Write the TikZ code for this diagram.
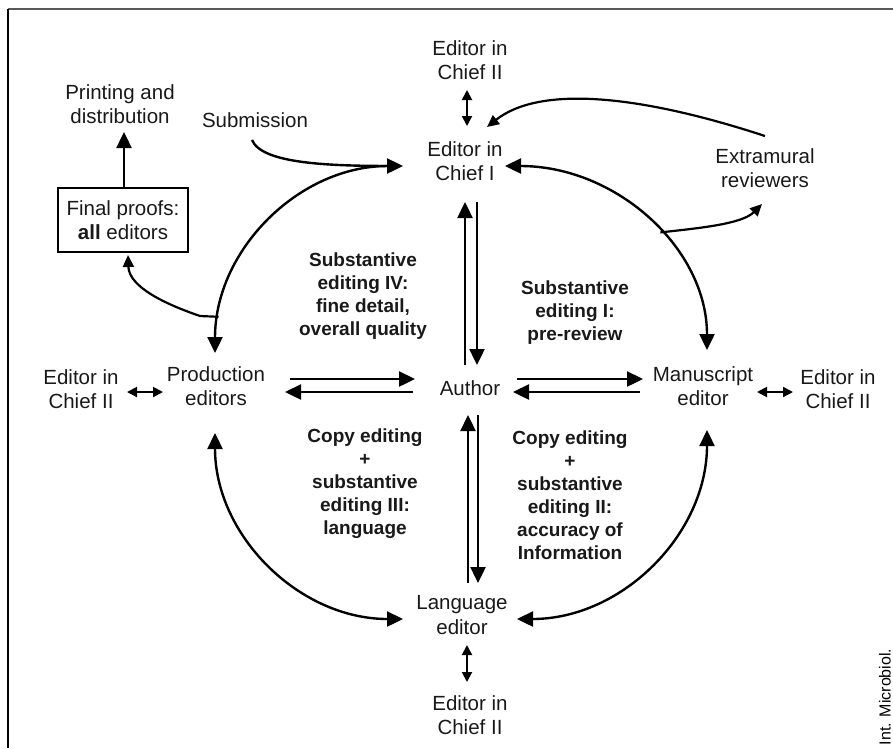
\documentclass[tikz,border=0pt]{standalone}
\usepackage{fontspec}
\setmainfont{Liberation Sans}
\usetikzlibrary{arrows.meta}
\begin{document}
\begin{tikzpicture}[x=1pt,y=-1pt,
  lbl/.style={font=\fontsize{20.5}{24.5}\selectfont, align=center, inner sep=0pt, text=black!90},
  blbl/.style={font=\fontsize{19}{23}\selectfont\bfseries, align=center, inner sep=0pt, text=black!90},
  arr/.style={line width=2.4pt, -{Triangle[length=16pt,width=15pt]}},
  arrb/.style={line width=2.4pt, {Triangle[length=16pt,width=15pt]}-{Triangle[length=16pt,width=15pt]}},
  darr/.style={line width=2pt, {Triangle[length=10pt,width=10pt]}-{Triangle[length=10pt,width=10pt]}},
  thin/.style={line width=2.2pt, -{Triangle[length=12pt,width=11pt]}},
  plain/.style={line width=2.4pt}]
\useasboundingbox (0,0) rectangle (893,748);
% frame
\draw[line width=2.5pt, black!65] (8,9) -- (893,9);
\draw[line width=2pt] (8,9) -- (8,748);
\node[rotate=90, font=\fontsize{16}{18}\selectfont, inner sep=0pt] (src) at (885,697) {Int. Microbiol.};
% nodes
\node[lbl] (eicT) at (470,60) {Editor in\\Chief II};
\node[lbl] (eic1) at (465,161) {Editor in\\Chief I};
\node[lbl] (author) at (470,388) {Author};
\node[lbl] (lang) at (462,615) {Language\\editor};
\node[lbl] (eicB) at (470,715) {Editor in\\Chief II};
\node[lbl] (prod) at (216,386) {Production\\editors};
\node[lbl] (eicL) at (81,389) {Editor in\\Chief II};
\node[lbl] (ms) at (703,386) {Manuscript\\editor};
\node[lbl] (eicR) at (838,389) {Editor in\\Chief II};
\node[lbl] (ext) at (765,168) {Extramural\\reviewers};
\node[lbl] (sub) at (255,120) {Submission};
\node[lbl] (print) at (120,104) {Printing and\\distribution};
\node[lbl, draw, line width=1.3pt, minimum width=130pt, minimum height=64pt] (final) at (123,220) {Final proofs:\\\textbf{all} editors};
\node[blbl] (s4) at (363,296) {Substantive\\editing IV:\\fine detail,\\overall quality};
\node[blbl] (s1) at (575,313) {Substantive\\editing I:\\pre-review};
\node[blbl] (c3) at (365,484) {Copy editing\\+\\substantive\\editing III:\\language};
\node[blbl] (c2) at (570,495) {Copy editing\\+\\substantive\\editing II:\\accuracy of\\Information};
% coordinates
\coordinate (tT1) at (467,90);  \coordinate (tT2) at (467,126);
\coordinate (tB1) at (467,645); \coordinate (tB2) at (467,682);
\coordinate (tL1) at (127,392); \coordinate (tL2) at (163,392);
\coordinate (tR1) at (757,392); \coordinate (tR2) at (793,392);
\coordinate (v1a) at (465,365); \coordinate (v1b) at (465,202);
\coordinate (v2a) at (477,202); \coordinate (v2b) at (477,365);
\coordinate (v3a) at (468,583); \coordinate (v3b) at (468,415);
\coordinate (v4a) at (478,415); \coordinate (v4b) at (478,583);
\coordinate (h1a) at (290,379); \coordinate (h1b) at (415,379);
\coordinate (h2a) at (413,392); \coordinate (h2b) at (285,392);
\coordinate (h3a) at (517,379); \coordinate (h3b) at (643,379);
\coordinate (h4a) at (640,392); \coordinate (h4b) at (513,392);
\coordinate (prTop) at (215,353); \coordinate (eicL1) at (403,166);
\coordinate (eicR1) at (505,166); \coordinate (msTop) at (707,350);
\coordinate (prBot) at (215,433); \coordinate (lgL) at (403,619);
\coordinate (msBot) at (707,430); \coordinate (lgR) at (517,619);
% double arrows
\draw[darr] (tT1) -- (tT2);
\draw[darr] (tB1) -- (tB2);
\draw[darr] (tL1) -- (tL2);
\draw[darr] (tR1) -- (tR2);
% vertical pairs
\draw[arr] (v1a) -- (v1b);
\draw[arr] (v2a) -- (v2b);
\draw[arr] (v3a) -- (v3b);
\draw[arr] (v4a) -- (v4b);
% horizontal pairs
\draw[arr] (h1a) -- (h1b);
\draw[arr] (h2a) -- (h2b);
\draw[arr] (h3a) -- (h3b);
\draw[arr] (h4a) -- (h4b);
% big arcs
\draw[arrb] (prTop) .. controls (215,249.8) and (299.2,166) .. coordinate[pos=0.12] (jl) (eicL1);
\draw[arrb] (eicR1) .. controls (616.5,166) and (707,248.4) .. coordinate[pos=0.56] (jr) (msTop);
\draw[arrb] (prBot) .. controls (215,535.7) and (299.2,619) .. (lgL);
\draw[arrb] (msBot) .. controls (707,534.3) and (621.9,619) .. (lgR);
% submission
\coordinate (subS) at (252,140);
\coordinate (subE) at (395,166);
\draw[plain] (subS) .. controls (262,164) and (330,166) .. (subE);
% printing
\coordinate (prnTip) at (124,132);
\coordinate (prnS) at (124,188);
\draw[arr] (prnS) -- (prnTip);
% final proofs branch
\draw[thin] (jl) -- (200,316) .. controls (165,304) and (129,287) .. (128,255);
% extramural
\coordinate (extTip) at (762,204);
\coordinate (extS) at (765,136);
\coordinate (eicTR) at (487,127);
\draw[thin] (jr) .. controls (700,228) and (742,224) .. (extTip);
\draw[thin] (extS) .. controls (640,95) and (540,85) .. (eicTR);
\end{tikzpicture}
\end{document}
